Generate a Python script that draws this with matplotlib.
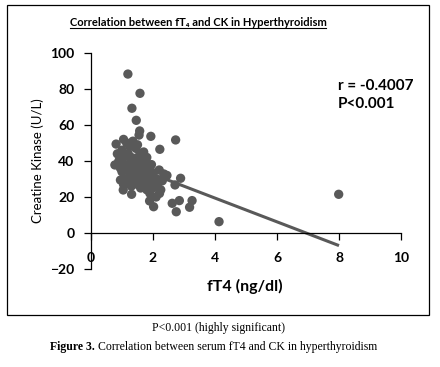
import matplotlib
matplotlib.use("Agg")
import matplotlib.pyplot as plt
import numpy as np
from matplotlib.patches import Rectangle
from matplotlib.lines import Line2D

# ---- data ----
ft4 = [1.19, 1.58, 1.32, 1.46, 1.57, 1.55, 1.93, 2.73, 0.81, 1.05, 2.22, 2.89, 2.71,
       0.77, 0.95, 1.04, 1.31, 1.89, 2.02, 2.21, 2.62, 2.85, 2.75, 3.26, 3.18, 4.13,
       2.35, 7.99,
       0.85, 0.90, 1.00, 1.05, 1.10, 1.15, 1.20, 1.25, 1.30, 1.35, 1.40, 1.45, 1.50,
       1.55, 1.60, 1.65, 1.70, 1.75, 1.80, 1.85, 1.90, 1.95, 2.00, 2.10, 2.15, 2.20,
       2.30, 2.45, 1.00, 1.10, 1.20, 1.30, 1.40, 1.50, 1.60, 1.70, 1.80, 1.90, 2.00,
       1.15, 1.35, 1.50, 1.60, 1.80, 1.25, 1.45, 1.55, 1.75, 1.05, 0.95, 1.30, 1.65,
       2.05, 1.85, 1.40, 1.20, 1.70, 2.25, 2.10, 1.95, 1.50, 1.35, 1.60]
ck = [88.3, 77.6, 69.3, 62.6, 56.7, 54.4, 53.7, 51.7, 49.4, 52.0, 46.5, 30.4, 26.7,
      37.8, 29.4, 23.9, 21.5, 17.8, 14.6, 22.0, 16.5, 18.0, 11.8, 18.0, 14.3, 6.3,
      32.8, 21.5,
      44, 40, 46, 42, 38, 35, 44, 48, 40, 36, 33, 47, 42,
      38, 30, 34, 45, 40, 36, 32, 28, 38, 33, 30, 27, 35,
      29, 32, 34, 30, 28, 26, 29, 27, 25, 27, 24, 22, 25,
      50, 51, 49, 44, 42, 32, 30, 36, 31, 27, 36, 42, 39,
      29, 26, 38, 37, 33, 24, 20, 34, 34, 31, 37]
trend_slope = -6.6
trend_intercept = 45.8
trend_x = [0.77, 8.0]
x_ticks = [0, 2, 4, 6, 8, 10]
y_ticks = [-20, 0, 20, 40, 60, 80, 100]

# ---- figure ----
FONT = ["Lato", "DejaVu Sans"]
plt.rcParams["font.family"] = FONT
gray = "#595959"

fig = plt.figure(figsize=(4.4, 3.67), dpi=100)
ax = fig.add_axes([91/440, 1-269/367, 310/440, 216/367])

ax.scatter(ft4, ck, s=45, color=gray, edgecolors="none", zorder=3)
tx = np.array(trend_x)
ax.plot(tx, trend_intercept + trend_slope*tx, color=gray, lw=2.2, zorder=2,
        solid_capstyle="butt")

ax.set_xlim(0, 10)
ax.set_ylim(-20, 100)
ax.set_xticks(x_ticks)
ax.set_yticks(y_ticks)
ax.spines["top"].set_visible(False)
ax.spines["right"].set_visible(False)
ax.spines["bottom"].set_position(("data", 0))
ax.spines["left"].set_linewidth(0.9)
ax.spines["bottom"].set_linewidth(0.9)
ax.tick_params(axis="both", direction="out", length=5, width=0.9)
ax.tick_params(axis="x", pad=9)
ax.tick_params(axis="y", pad=7)
for lab in ax.get_xticklabels() + ax.get_yticklabels():
    lab.set_fontweight("bold")
    lab.set_fontsize(10)

fig.text(38/440, 1-161/367, "Creatine Kinase (U/L)", rotation=90, ha="center",
         va="center", fontsize=9.5)
fig.text(245/440, 1-286/367, "fT4 (ng/dl)", ha="center", va="center",
         fontsize=11.5, fontweight="bold")

fig.text(338/440, 1-86/367, "r = -0.4007", ha="left", va="center",
         fontsize=11, fontweight="bold")
fig.text(338/440, 1-104/367, "P<0.001", ha="left", va="center",
         fontsize=11, fontweight="bold")

title = fig.text(198/440, 1-23/367, "Correlation between fT\u2084 and CK in Hyperthyroidism",
                 ha="center", va="center", fontsize=8, fontweight="bold")

# border
fig.patches.append(Rectangle((7/440, 1-315/367), 422/440, 310/367,
                             transform=fig.transFigure, fill=False,
                             edgecolor="black", lw=0.9))

fig.text(218/440, 1-328/367, "P<0.001 (highly significant)", ha="center",
         va="center", fontsize=8.5, family="Liberation Serif")
fig_lbl = fig.text(50/440, 1-347/367, "Figure 3.", ha="left", va="center",
                   fontsize=8.5, family="Liberation Serif", fontweight="bold")

fig.canvas.draw()
renderer = fig.canvas.get_renderer()
inv = fig.transFigure.inverted()
fb = fig_lbl.get_window_extent(renderer)
fx1 = inv.transform((fb.x1 + 3, fb.y0))[0]
fig.text(fx1, 1-347/367, "Correlation between serum fT4 and CK in hyperthyroidism",
         ha="left", va="center", fontsize=8.5, family="Liberation Serif")

# underline title
bb = title.get_window_extent(renderer)
(x0, y0), (x1, y1) = inv.transform([(bb.x0, bb.y0), (bb.x1, bb.y0)])
fig.lines.append(Line2D([x0, x1], [y0 + 0.002, y0 + 0.002], transform=fig.transFigure,
                        color="black", lw=0.8))

fig.savefig("out.png", dpi=100)
